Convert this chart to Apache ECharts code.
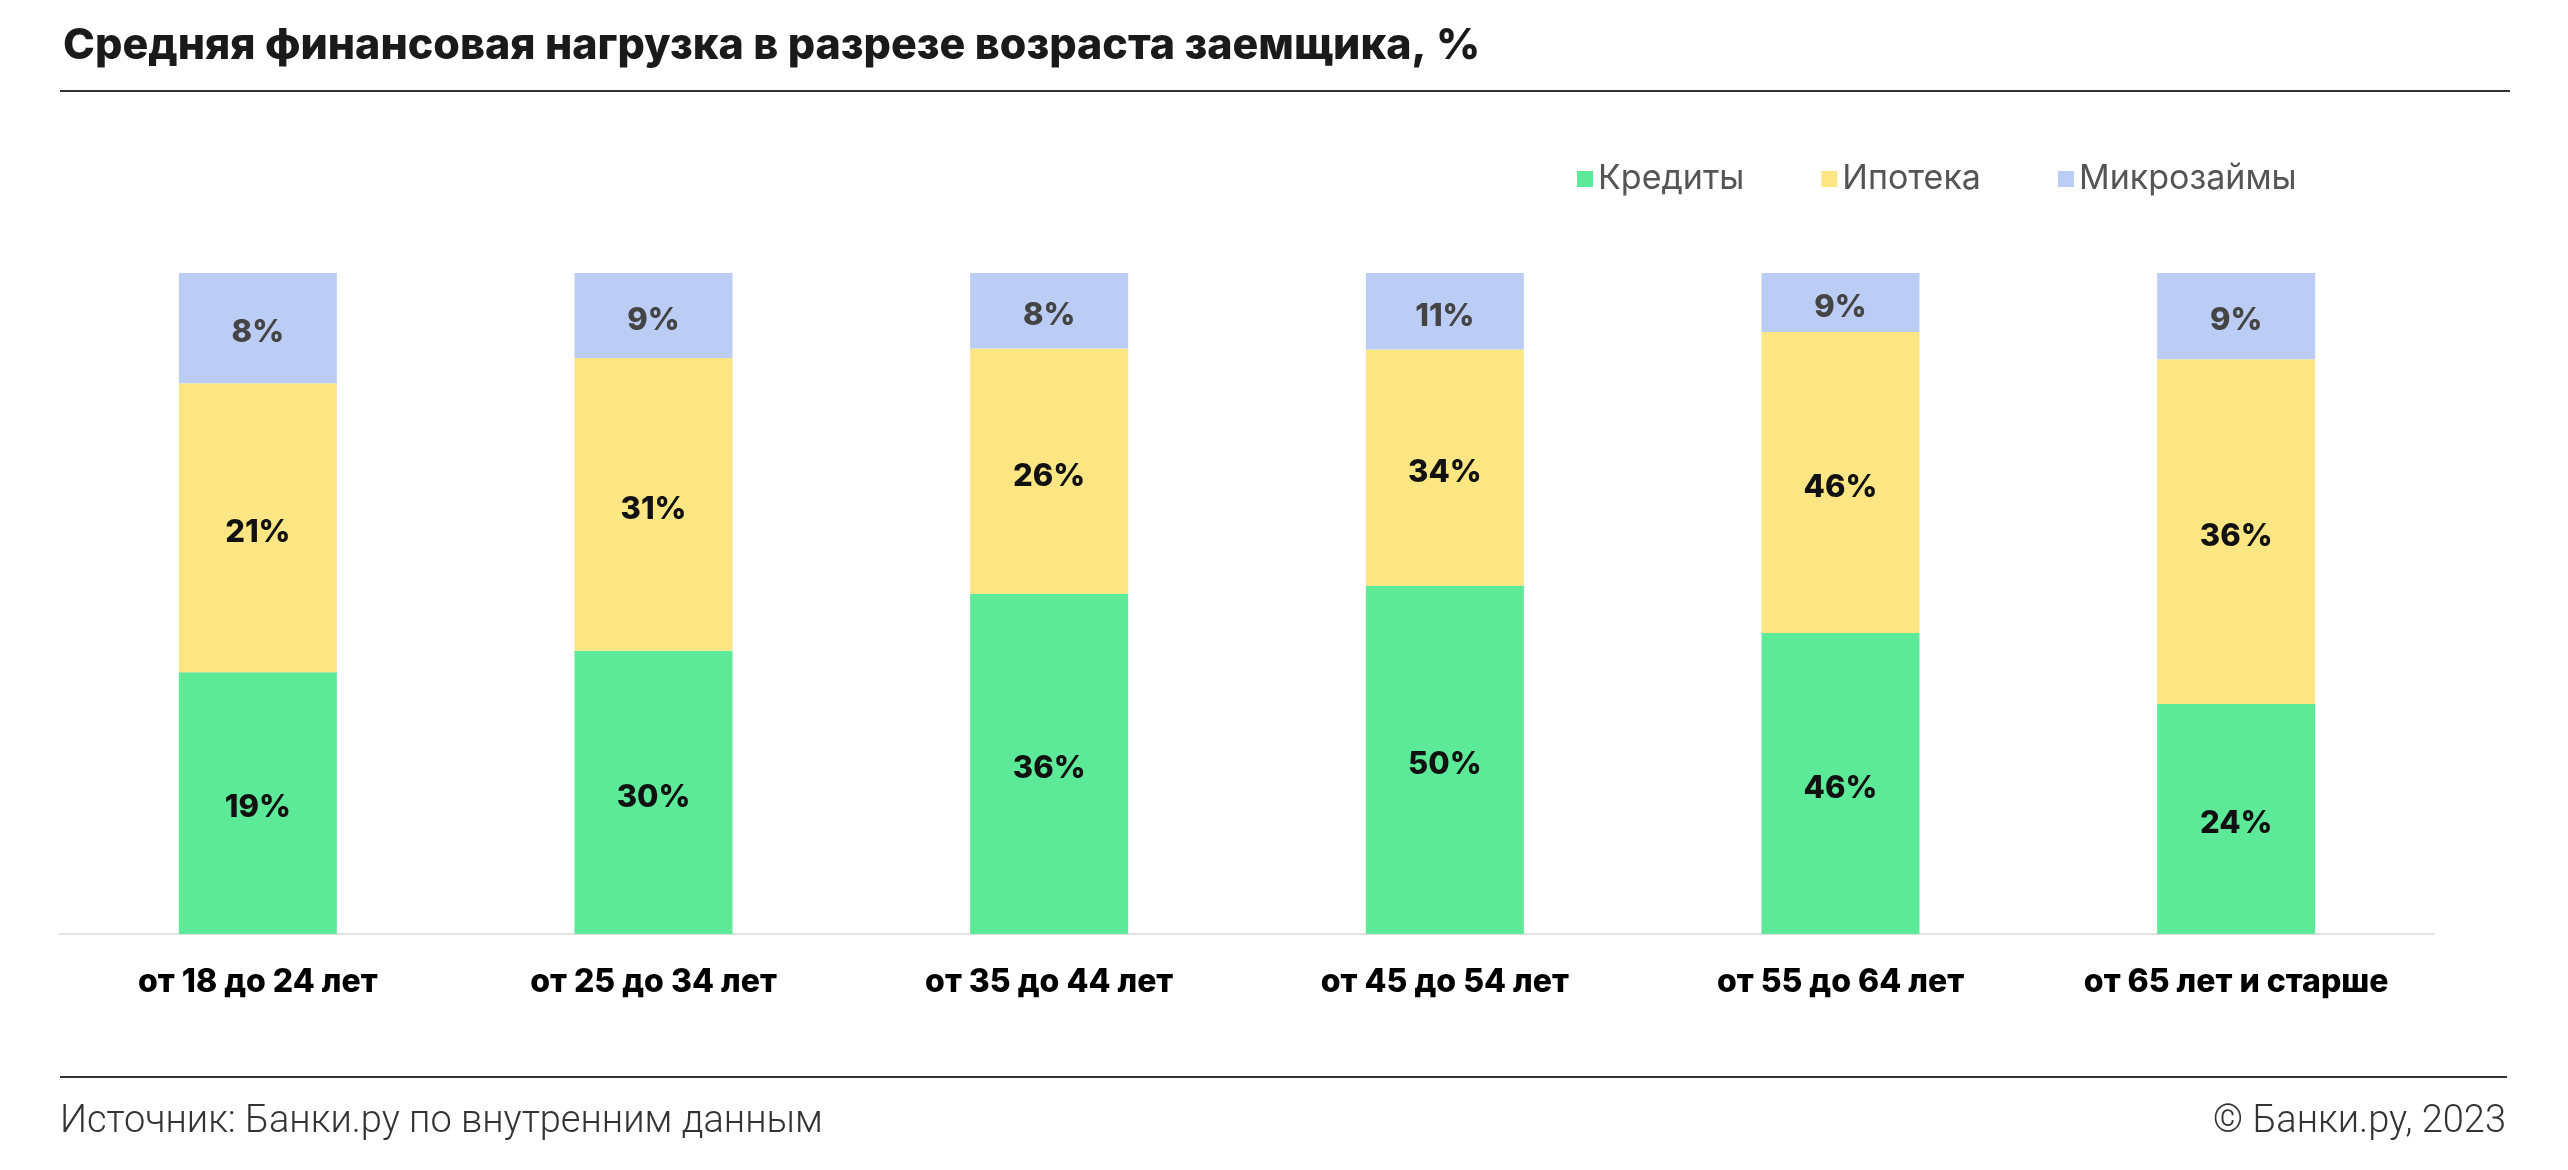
<!DOCTYPE html>
<html>
<head>
<meta charset="utf-8">
<script src="https://cdn.jsdelivr.net/npm/echarts@6/dist/echarts.min.js"></script>
<style>
html,body{margin:0;padding:0;background:#fff;}
#chart{width:2568px;height:1170px;}
</style>
</head>
<body>
<div id="chart"></div>
<script>
const categories = ['от 18 до 24 лет','от 25 до 34 лет','от 35 до 44 лет','от 45 до 54 лет','от 55 до 64 лет','от 65 лет и старше'];
const seriesNames = ['Кредиты','Ипотека','Микрозаймы'];
const credits = [19, 30, 36, 50, 46, 24];
const mortgage = [21, 31, 26, 34, 46, 36];
const micro = [8, 9, 8, 11, 9, 9];
const colors = ['#5ce998','#fce683','#bbcdf4'];
const labelColors = ['#111111','#111111','#444444'];

const raw = [credits, mortgage, micro];
const totals = categories.map((c, i) => raw.reduce((s, arr) => s + arr[i], 0));

const chart = echarts.init(document.getElementById('chart'));
const FONT = 'Inter, "Noto Sans", sans-serif';

const series = raw.map((arr, si) => ({
  name: seriesNames[si],
  type: 'bar',
  stack: 'total',
  barWidth: 158,
  itemStyle: { color: colors[si] },
  label: {
    show: true,
    position: 'inside',
    offset: [0, 5],
    fontFamily: FONT,
    fontWeight: 800,
    fontSize: 31,
    color: labelColors[si],
    formatter: p => arr[p.dataIndex] + '%'
  },
  emphasis: { disabled: true },
  data: arr.map((v, i) => v / totals[i] * 100)
}));

chart.setOption({
  animation: false,
  backgroundColor: '#ffffff',
  title: {
    text: 'Средняя финансовая нагрузка в разрезе возраста заемщика, %',
    left: 58,
    top: 20,
    textStyle: { fontFamily: FONT, fontWeight: 800, fontSize: 43, color: '#1a1a1a' }
  },
  legend: {
    left: 1572,
    top: 157,
    icon: 'rect',
    itemWidth: 16,
    itemHeight: 16,
    itemGap: 77,
    textStyle: { fontFamily: FONT, fontSize: 34, color: '#555555' },
    data: seriesNames
  },
  grid: { left: 60, right: 134, top: 273, bottom: 236, containLabel: false },
  xAxis: {
    type: 'category',
    data: categories,
    axisLine: { show: true, lineStyle: { color: '#e2e2e2', width: 2 } },
    axisTick: { show: false },
    axisLabel: { interval: 0, hideOverlap: false, fontFamily: FONT, fontWeight: 800, fontSize: 32, color: '#000', margin: 32 }
  },
  yAxis: {
    type: 'value',
    min: 0,
    max: 100,
    show: false,
    splitLine: { show: false }
  },
  series: series,
  graphic: [
    { type: 'rect', shape: { x: 60, y: 90, width: 2450, height: 2 }, style: { fill: '#333' } },
    { type: 'rect', shape: { x: 60, y: 1076, width: 2447, height: 2 }, style: { fill: '#333' } },
    { type: 'text', left: 60, top: 1103, style: { text: 'Источник: Банки.ру по внутренним данным', fontFamily: 'Roboto, sans-serif', fontWeight: 300, fontSize: 38, fill: '#333' } },
    { type: 'text', right: 62, top: 1103, style: { text: '© Банки.ру, 2023', fontFamily: 'Roboto, sans-serif', fontWeight: 300, fontSize: 38, fill: '#333' } }
  ]
});
</script>
</body>
</html>
